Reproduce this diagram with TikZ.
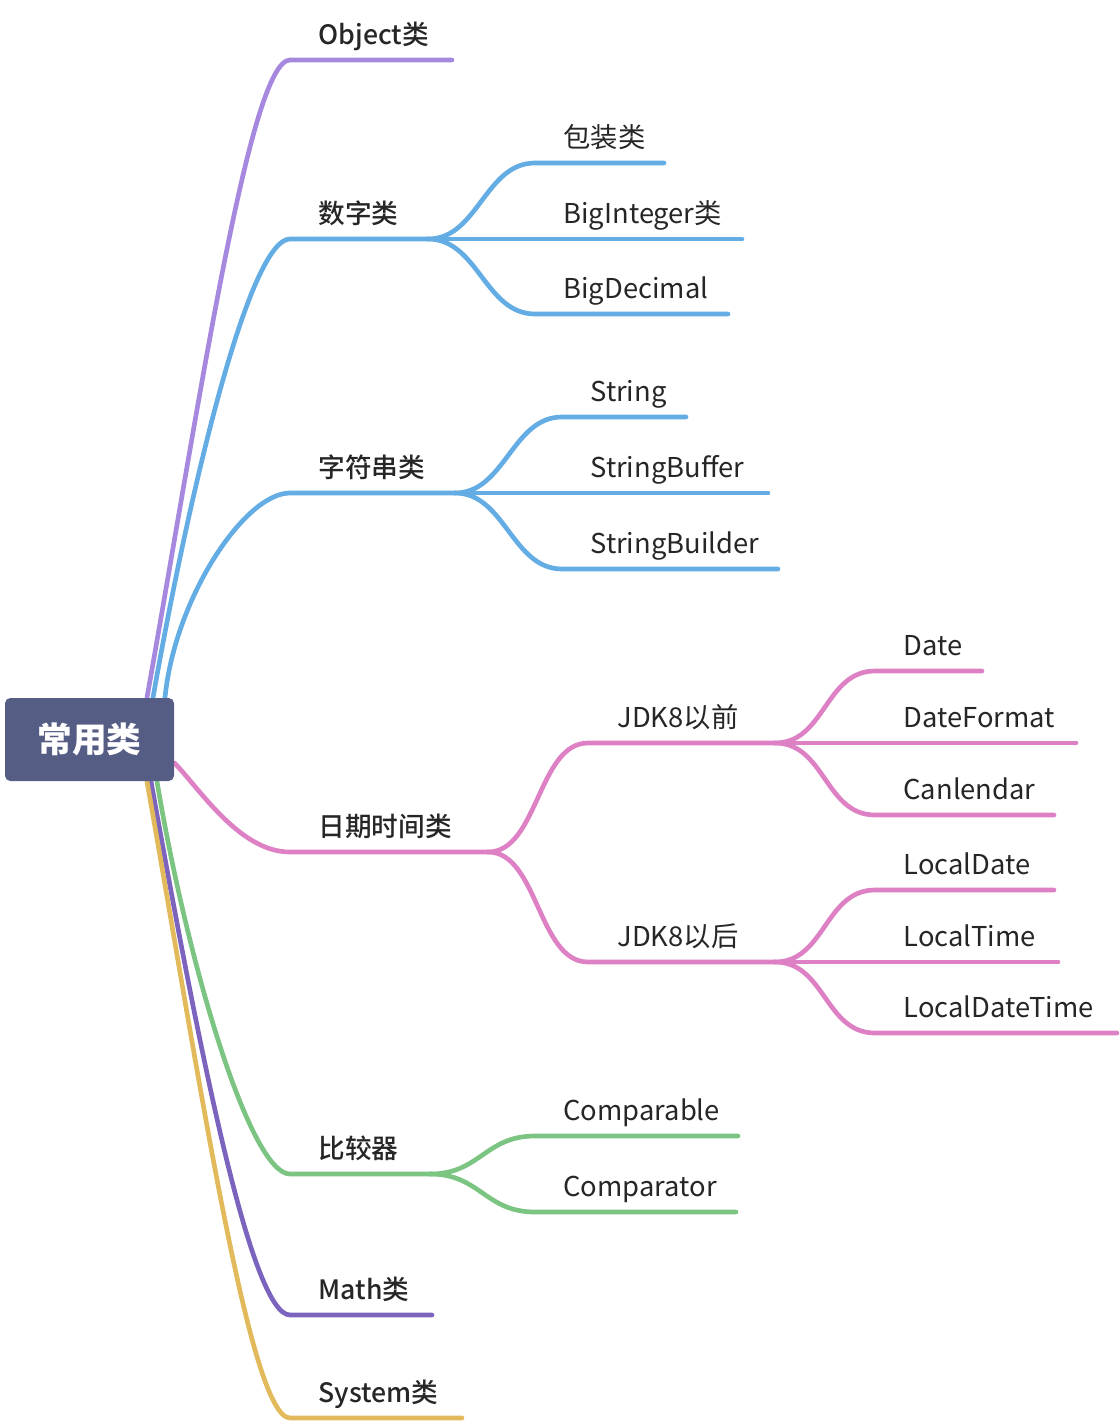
\documentclass[tikz,border=0pt]{standalone}
\usepackage{fontspec}
\setmainfont{Noto Sans CJK SC}
\newfontfamily\topicfont{Noto Sans CJK SC Medium}
\usetikzlibrary{backgrounds}

\definecolor{rootblue}{RGB}{86,93,133}
\definecolor{objpurple}{RGB}{166,136,222}
\definecolor{numblue}{RGB}{99,172,228}
\definecolor{datepink}{RGB}{222,128,196}
\definecolor{cmpgreen}{RGB}{124,196,130}
\definecolor{mathpurple}{RGB}{124,100,190}
\definecolor{sysyellow}{RGB}{226,186,92}

\tikzset{every picture/.style={line width=0.75pt}}
\tikzset{
  rootbox/.style={fill=rootblue, rounded corners=4pt, minimum width=126.75pt, minimum height=62.25pt,
    inner sep=0pt, text=white, font=\fontsize{26}{30}\selectfont\bfseries},
  topic/.style={anchor=base west, inner sep=0pt, text=black!85, font=\fontsize{20}{24}\topicfont},
  subtopic/.style={anchor=base west, inner sep=0pt, text=black!85, font=\fontsize{20.5}{24}\selectfont},
  branch/.style={line width=3.5pt, line cap=round},
}

\begin{document}
\begin{tikzpicture}[x=0.75pt,y=0.75pt,yscale=-1,xscale=1]
\useasboundingbox (0,0) rectangle (1120,1424);

% Root
\node [rootbox] (root) at (89.5,739.5) {常用类};

% Branch coordinates
\coordinate (objS) at ([shift={(57.5,0)}]root.north);
\coordinate (numS) at ([shift={(63.5,0)}]root.north);
\coordinate (strS) at ([shift={(75.5,0)}]root.north);
\coordinate (dateS) at ([shift={(0,23.5)}]root.east);
\coordinate (cmpS) at ([shift={(67.5,0)}]root.south);
\coordinate (mathS) at ([shift={(61.5,0)}]root.south);
\coordinate (sysS) at ([shift={(57.5,0)}]root.south);

\coordinate (obj) at (290,60);
\coordinate (num) at (290,239);
\coordinate (str) at (290,493);
\coordinate (date) at (290,852);
\coordinate (cmp) at (290,1174);
\coordinate (math) at (290,1315);
\coordinate (sys) at (290,1418);

% Junctions
\coordinate (numJ) at (428,239);
\coordinate (strJ) at (455,493);
\coordinate (dateJ) at (488,852);
\coordinate (oldJ) at (775,743);
\coordinate (newJ) at (775,962);
\coordinate (cmpJ) at (430,1174);

\begin{scope}[on background layer]
%Curve Lines (level 1)
\draw [branch, objpurple] (objS) .. controls +(53,-298) and +(-40,0) .. (obj) -- (452,60);
\draw [branch, numblue] (numS) .. controls +(38,-215) and +(-40,0) .. (num) -- (numJ);
\draw [branch, numblue] (strS) .. controls +(10,-100) and +(-45,0) .. (str) -- (strJ);
\draw [branch, datepink] (dateS) .. controls +(26,27) and +(-50,0) .. (date) -- (dateJ);
\draw [branch, cmpgreen] (cmpS) .. controls +(30,180) and +(-40,0) .. (cmp) -- (cmpJ);
\draw [branch, mathpurple] (mathS) .. controls +(45,250) and +(-40,0) .. (math) -- (432,1315);
\draw [branch, sysyellow] (sysS) .. controls +(53,300) and +(-40,0) .. (sys) -- (462,1418);

%Curve Lines (数字类)
\draw [branch, numblue] (numJ) .. controls +(50,0) and +(-50,0) .. (535,163) -- (664,163);
\draw [branch, numblue] (numJ) -- (742,239);
\draw [branch, numblue] (numJ) .. controls +(50,0) and +(-50,0) .. (535,314) -- (728,314);

%Curve Lines (字符串类)
\draw [branch, numblue] (strJ) .. controls +(50,0) and +(-50,0) .. (562,417) -- (686,417);
\draw [branch, numblue] (strJ) -- (768,493);
\draw [branch, numblue] (strJ) .. controls +(50,0) and +(-50,0) .. (562,569) -- (778,569);

%Curve Lines (日期时间类)
\draw [branch, datepink] (dateJ) .. controls +(50,0) and +(-50,0) .. (588,743) -- (oldJ);
\draw [branch, datepink] (dateJ) .. controls +(50,0) and +(-50,0) .. (588,962) -- (newJ);
\draw [branch, datepink] (oldJ) .. controls +(50,0) and +(-50,0) .. (875,671) -- (982,671);
\draw [branch, datepink] (oldJ) -- (1076,743);
\draw [branch, datepink] (oldJ) .. controls +(50,0) and +(-50,0) .. (875,815) -- (1054,815);
\draw [branch, datepink] (newJ) .. controls +(50,0) and +(-50,0) .. (875,890) -- (1054,890);
\draw [branch, datepink] (newJ) -- (1058,962);
\draw [branch, datepink] (newJ) .. controls +(50,0) and +(-50,0) .. (875,1033) -- (1117,1033);

%Curve Lines (比较器)
\draw [branch, cmpgreen] (cmpJ) .. controls +(50,0) and +(-50,0) .. (535,1136) -- (738,1136);
\draw [branch, cmpgreen] (cmpJ) .. controls +(50,0) and +(-50,0) .. (535,1212) -- (736,1212);
\end{scope}

% Text Node
\node [topic] (objT) at (318,44) {Object类};
\node [topic] (numT) at (318,223) {数字类};
\node [topic] (strT) at (318,477) {字符串类};
\node [topic] (dateT) at (318,836) {日期时间类};
\node [topic] (cmpT) at (318,1158) {比较器};
\node [topic] (mathT) at (318,1299) {Math类};
\node [topic] (sysT) at (318,1402) {System类};

% Text Node
\node [subtopic] (wrapT) at (563,147) {包装类};
\node [subtopic] (bigintT) at (563,223) {BigInteger类};
\node [subtopic] (bigdecT) at (563,298) {BigDecimal};
\node [subtopic] (stringT) at (590,401) {String};
\node [subtopic] (sbufT) at (590,477) {StringBuffer};
\node [subtopic] (sbldT) at (590,553) {StringBuilder};
\node [subtopic] (oldT) at (617,727) {JDK8以前};
\node [subtopic] (newT) at (617,946) {JDK8以后};
\node [subtopic] (dT) at (903,655) {Date};
\node [subtopic] (dfT) at (903,727) {DateFormat};
\node [subtopic] (calT) at (903,799) {Canlendar};
\node [subtopic] (ldT) at (903,874) {LocalDate};
\node [subtopic] (ltT) at (903,946) {LocalTime};
\node [subtopic] (ldtT) at (903,1017) {LocalDateTime};
\node [subtopic] (cmpbT) at (563,1120) {Comparable};
\node [subtopic] (cmprT) at (563,1196) {Comparator};

\end{tikzpicture}
\end{document}
